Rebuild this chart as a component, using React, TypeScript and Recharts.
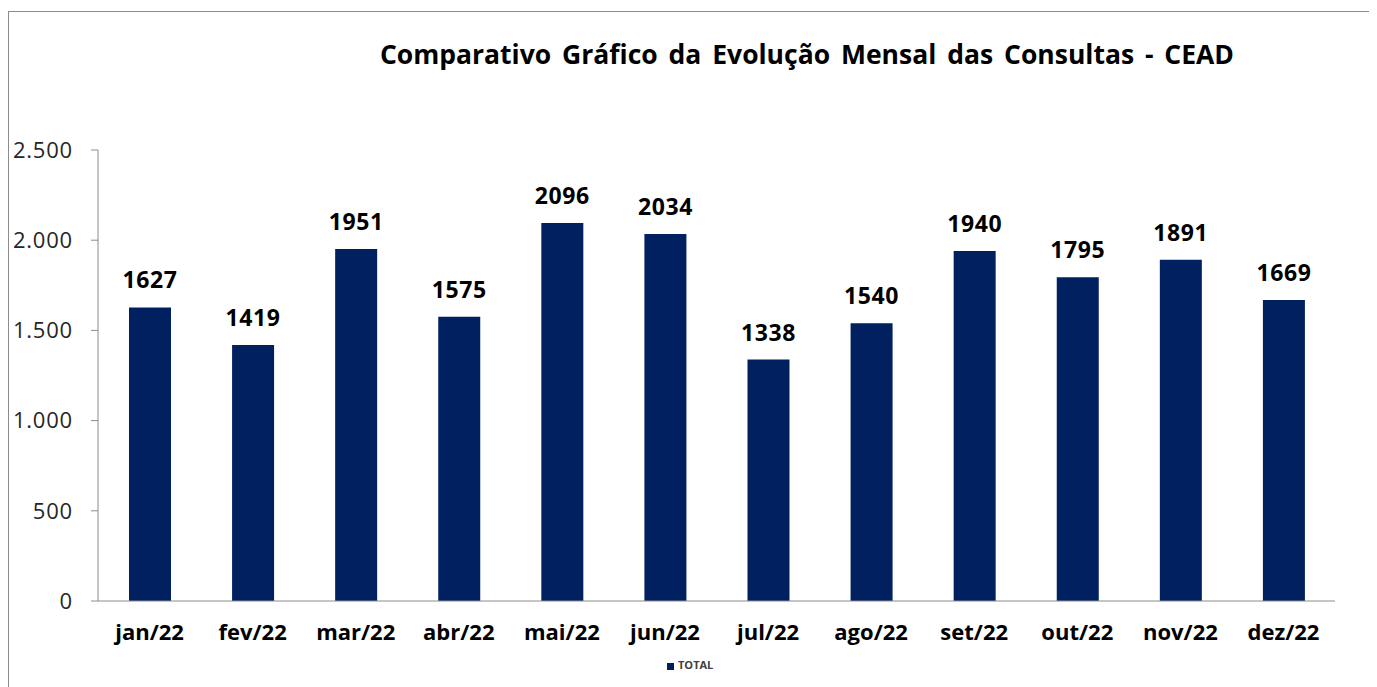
import React from 'react';
import { BarChart, Bar, XAxis, YAxis, LabelList, Legend } from 'recharts';

const months = ['jan/22', 'fev/22', 'mar/22', 'abr/22', 'mai/22', 'jun/22', 'jul/22', 'ago/22', 'set/22', 'out/22', 'nov/22', 'dez/22'];
const totals = [1627, 1419, 1951, 1575, 2096, 2034, 1338, 1540, 1940, 1795, 1891, 1669];
const yTicks = [0, 500, 1000, 1500, 2000, 2500];
const boundaryTicks = [0, 1, 2, 3, 4, 5, 6, 7, 8, 9, 10, 11, 12];

const FONT = '"Open Sans", Calibri, sans-serif';
const NAVY = '#002060';

const chartData = months.map((m, i) => ({ month: m, TOTAL: totals[i] }));

// 1.500 style thousands separator
const fmt = (v: number) => v.toLocaleString('pt-BR');

const App: React.FC = () => {
  return (
    <div
      style={{
        position: 'relative',
        top: 3,
        width: 1366,
        height: 685,
        border: '1px solid #8c8c8c',
        fontFamily: FONT,
        background: '#fff',
      }}
    >
      <div
        style={{
          position: 'absolute',
          top: 24,
          left: 0,
          width: 1366,
          paddingLeft: 230,
          boxSizing: 'border-box',
          textAlign: 'center',
          fontSize: 26.5,
          fontWeight: 700,
          color: '#000',
          wordSpacing: 4,
        }}
      >
        Comparativo Gráfico da Evolução Mensal das Consultas - CEAD
      </div>
      <BarChart width={1366} height={680} data={chartData} margin={{ top: 138, right: 40, left: 29, bottom: 0 }}>
        <XAxis
          xAxisId="bounds"
          type="number"
          domain={[0, 12]}
          ticks={boundaryTicks}
          height={0}
          axisLine={false}
          tickLine={{ stroke: '#8c8c8c' }}
          tickSize={8}
          tickFormatter={() => ''}
        />
        <XAxis
          dataKey="month"
          height={91}
          axisLine={{ stroke: '#8c8c8c' }}
          tickLine={false}
          tickMargin={17}
          interval={0}
          tick={{ fill: '#000', fontSize: 22, fontWeight: 700, fontFamily: FONT }}
        />
        <YAxis
          domain={[0, 2500]}
          ticks={yTicks}
          width={60}
          axisLine={{ stroke: '#8c8c8c' }}
          tickLine={{ stroke: '#8c8c8c' }}
          tickSize={7}
          tickMargin={18}
          tickFormatter={fmt}
          tick={{ fill: '#262626', fontSize: 22, fontFamily: FONT, letterSpacing: 0.8 }}
        />
        <Legend
          layout="vertical"
          align="center"
          verticalAlign="middle"
          iconType="square"
          iconSize={7}
          wrapperStyle={{ top: 645, left: 658, width: 'auto', fontSize: 11, fontWeight: 700 }}
          formatter={(v: string) => <span style={{ color: '#404040' }}>{v}</span>}
        />
        <Bar dataKey="TOTAL" fill={NAVY} barSize={42} isAnimationActive={false}>
          <LabelList
            dataKey="TOTAL"
            position="top"
            offset={19}
            style={{ fill: '#000', fontSize: 23, fontWeight: 700, fontFamily: FONT, letterSpacing: 0.6 }}
          />
        </Bar>
      </BarChart>
    </div>
  );
};

export default App;
